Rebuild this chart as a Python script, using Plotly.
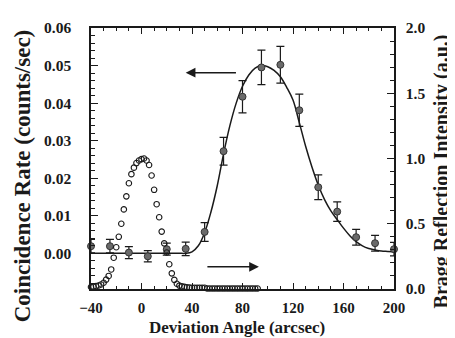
import plotly.graph_objects as go

# Coincidence rate (left axis), filled points with error bars
x_coin = [-40, -25, -10, 5, 20, 35, 50, 65, 80, 95, 110, 125, 140, 155, 170, 185, 200]
y_coin = [0.0019, 0.0019, 0.0002, -0.0008, 0.0011, 0.0012, 0.0057, 0.0272, 0.0417,
          0.0495, 0.0502, 0.0381, 0.0176, 0.0111, 0.0043, 0.0027, 0.0011]
err_coin = [0.0018, 0.0018, 0.0016, 0.0015, 0.0016, 0.0018, 0.0025, 0.0037, 0.0043,
            0.0046, 0.0049, 0.0043, 0.0033, 0.0026, 0.0021, 0.0021, 0.0018]

# Fitted curve (left axis)
x_fit = [-40, -35, -30, -25, -20, -15, -10, -5, 0, 5, 10, 15, 20, 25, 30, 35,
         40, 45, 50, 55, 60, 65, 70, 75, 80, 85, 90, 95, 100, 105, 110, 115, 120,
         125, 130, 135, 140, 145, 150, 155, 160, 165, 170, 175, 180, 185, 190, 195, 200]
y_fit = [0, 0, 0, 0, 0, 0, 0, 0, 0, 0, 0, 0, 0, 0, 0, 0,
         0.0004, 0.002, 0.0055, 0.011, 0.018, 0.0265, 0.034, 0.040, 0.0445, 0.0475,
         0.0493, 0.0500, 0.0497, 0.0487, 0.0470, 0.0442, 0.0408, 0.0348, 0.0285,
         0.0230, 0.0182, 0.0143, 0.0113, 0.0090, 0.0067, 0.0047, 0.0031, 0.0020,
         0.0013, 0.0009, 0.0006, 0.0005, 0.0004]

# Bragg reflection intensity (right axis), open circles
x_bragg = [-40, -38, -36, -34, -32, -30, -28, -26, -24, -22, -20, -18, -16, -14, -12,
           -10, -8, -6, -4, -2, 0, 2, 4, 6, 8, 10, 12, 14, 16, 18, 20, 22, 24, 26, 28,
           30, 32, 34, 36, 38, 40, 42, 44, 46, 48, 50, 52, 54, 56, 58, 60, 62, 64, 66,
           68, 70, 72, 74, 76, 78, 80, 82, 84, 86, 88, 90, 92]
y_bragg = [0.015, 0.018, 0.022, 0.027, 0.035, 0.048, 0.072, 0.10, 0.15, 0.24, 0.32,
           0.40, 0.50, 0.61, 0.71, 0.81, 0.88, 0.93, 0.965, 0.985, 0.995, 1.0, 0.985,
           0.95, 0.87, 0.76, 0.65, 0.55, 0.44, 0.35, 0.28, 0.19, 0.12, 0.07, 0.04,
           0.026, 0.02, 0.016, 0.013, 0.011, 0.010, 0.010, 0.010, 0.010, 0.010, 0.010,
           0.004, 0.004, 0.004, 0.004, 0.004, 0.004, 0.004, 0.004, 0.004, 0.004, 0.004,
           0.004, 0.004, 0.004, 0.004, 0.004, 0.004, 0.004, 0.004, 0.004, 0.004]

x_title = "Deviation Angle (arcsec)"
y_title = "Coincidence Rate (counts/sec)"
y2_title = "Bragg Reflection Intensity (a.u.)"

FONT = "Liberation Serif"
INK = "#1a1a1a"

fig = go.Figure()
fig.add_trace(go.Scatter(x=x_fit, y=y_fit, mode="lines",
                         line=dict(color=INK, width=1.5, shape="spline"),
                         hoverinfo="skip"))
fig.add_trace(go.Scatter(x=x_coin, y=y_coin, mode="markers", cliponaxis=False,
                         error_y=dict(type="data", array=err_coin, color=INK,
                                      thickness=1.2, width=4),
                         marker=dict(size=7, color="#6a6a6a",
                                     line=dict(color="#333333", width=1))))
fig.add_trace(go.Scatter(x=x_bragg, y=y_bragg, yaxis="y2", mode="markers",
                         cliponaxis=False,
                         marker=dict(symbol="circle-open", size=5.5, color=INK,
                                     line=dict(width=1.1))))

tickfont = dict(family=FONT, size=15, color=INK, weight="bold")
ytickfont = dict(family=FONT, size=15.5, color=INK, weight="bold")

# the page body adds an 8px offset, so the figure is 8px smaller than the window
fig.update_layout(
    width=447, height=330,
    margin=dict(l=83, r=61, t=20, b=49, autoexpand=False),
    paper_bgcolor="white", plot_bgcolor="white",
    showlegend=False,
    xaxis=dict(range=[-40, 200], tick0=-40, dtick=40, ticks="inside", ticklen=6,
               tickwidth=1, tickcolor=INK, automargin=False,
               minor=dict(dtick=10, ticks="inside", ticklen=3, tickcolor=INK),
               showline=True, linecolor=INK, linewidth=1.5, mirror="ticks",
               showgrid=False, zeroline=False, tickfont=tickfont,
               ticklabelstandoff=4),
    yaxis=dict(range=[-0.0095, 0.06], tick0=0, dtick=0.01, tickformat=".2f",
               ticks="inside", ticklen=7, tickwidth=1, tickcolor=INK, automargin=False,
               minor=dict(dtick=0.002, ticks="inside", ticklen=4, tickcolor=INK),
               showline=True, linecolor=INK, linewidth=1.5,
               showgrid=False, zeroline=False, tickfont=ytickfont,
               ticklabelstandoff=15),
    yaxis2=dict(overlaying="y", side="right", range=[0, 2], dtick=0.5, tickformat=".1f",
                ticks="inside", ticklen=7, tickwidth=1, tickcolor=INK, automargin=False,
                minor=dict(dtick=0.1, ticks="inside", ticklen=4, tickcolor=INK),
                showline=True, linecolor=INK, linewidth=1.5,
                showgrid=False, zeroline=False, tickfont=ytickfont,
                ticklabelstandoff=7),
    annotations=[
        dict(x=35, y=0.0481, xref="x", yref="y", ax=76, ay=0.0481, axref="x", ayref="y",
             showarrow=True, arrowhead=2, arrowsize=1.3, arrowwidth=1.5,
             arrowcolor=INK, text=""),
        dict(x=93, y=0.17, xref="x", yref="y2", ax=51, ay=0.17, axref="x", ayref="y2",
             showarrow=True, arrowhead=2, arrowsize=1.3, arrowwidth=1.5,
             arrowcolor=INK, text=""),
        # axis titles
        dict(text=x_title, xref="paper", yref="paper", x=0.482, y=-0.147,
             xanchor="center", yanchor="middle", showarrow=False,
             font=dict(family=FONT, size=17, color=INK, weight="bold")),
        dict(text=y_title, xref="paper", yref="paper", x=-0.225, y=0.435, textangle=-90,
             xanchor="center", yanchor="middle", showarrow=False,
             font=dict(family=FONT, size=23, color=INK, weight="bold")),
        dict(text=y2_title, xref="paper", yref="paper", x=1.158, y=0.45, textangle=-90,
             xanchor="center", yanchor="middle", showarrow=False,
             font=dict(family=FONT, size=20, color=INK, weight="bold")),
    ],
)

fig.write_html("out.html")
